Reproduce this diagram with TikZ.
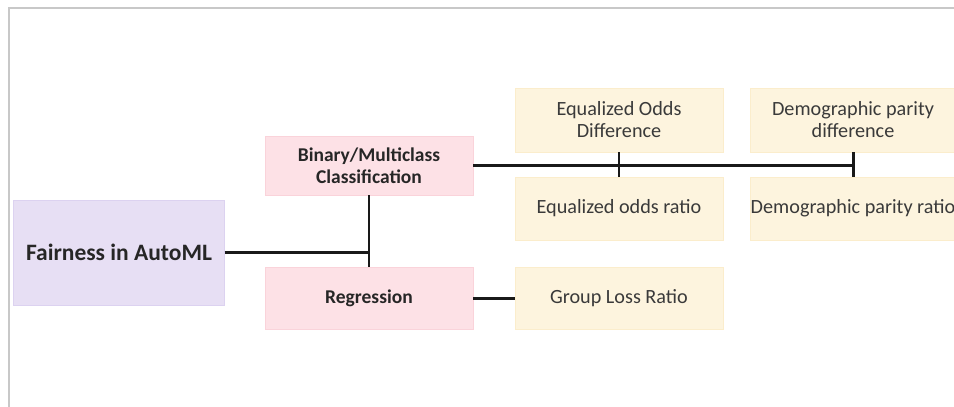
\documentclass[tikz,border=0pt]{standalone}
\usepackage{fontspec}
\setmainfont{Carlito}
\definecolor{fairfill}{HTML}{E7DFF4}
\definecolor{fairline}{HTML}{DCD2F0}
\definecolor{taskfill}{HTML}{FDE1E6}
\definecolor{taskline}{HTML}{FAD3DA}
\definecolor{metricfill}{HTML}{FDF4DE}
\definecolor{metricline}{HTML}{FBEDCC}
\definecolor{framegray}{HTML}{C8C8C8}
\definecolor{textgray}{HTML}{3A3A3A}

\begin{document}
\begin{tikzpicture}[x=1pt,y=-1pt,
	rootbox/.style={draw=fairline, fill=fairfill, minimum width=211pt, minimum height=105pt, inner sep=0pt, font=\fontsize{23.5}{28}\selectfont\bfseries, text=black!85},
	taskbox/.style={draw=taskline, fill=taskfill, minimum width=208pt, inner sep=0pt, align=center, font=\fontsize{19.5}{22}\selectfont\bfseries, text=black!85},
	metricbox/.style={draw=metricline, fill=metricfill, minimum width=208pt, inner sep=0pt, align=center, font=\fontsize{20.2}{22}\selectfont, text=textgray},
	link/.style={line width=3pt, black!90},
	tick/.style={line width=2pt, black!90}]
	\useasboundingbox (0,0) rectangle (954,407);
	\clip (0,0) rectangle (954,407);
	\draw [framegray, line width=2pt] (9,407) -- (9,8) -- (954,8);
	
	% root and tasks
	\node [rootbox] (fair) at (119,252.5) {Fairness in AutoML};
	\node [taskbox, minimum height=59pt] (bin) at (369,165.5) {Binary/Multiclass\\Classification};
	\node [taskbox, minimum height=62pt] (reg) at (369,298) {Regression};
	
	% metrics
	\node [metricbox, minimum height=64pt] (eod) at (619,120) {Equalized Odds\\Difference};
	\node [metricbox, minimum height=63pt] (eor) at (619,208.5) {Equalized odds ratio};
	\node [metricbox, minimum height=64pt, minimum width=206pt] (dpd) at (853,120) {Demographic parity\\difference};
	\node [metricbox, minimum height=63pt, minimum width=206pt] (dpr) at (853,208.5) {Demographic parity ratio};
	\node [metricbox, minimum height=62pt] (glr) at (619,298) {Group Loss Ratio};
	
	% connectors
	\draw [link] (fair.east) -- (fair.east -| bin.south);
	\draw [tick] (bin.south) -- (reg.north);
	\draw [link] (bin.east) -- (dpd.south |- bin.east);
	\draw [tick] (eod.south) -- (eor.north);
	\draw [link] (dpd.south) -- (dpr.north);
	\draw [link] (reg.east) -- (glr.west);
\end{tikzpicture}
\end{document}
